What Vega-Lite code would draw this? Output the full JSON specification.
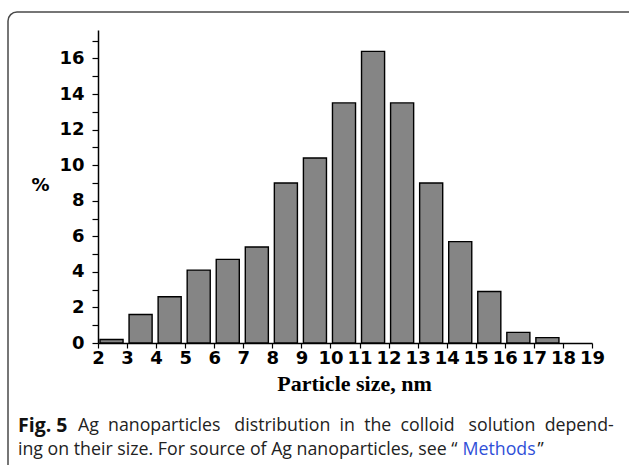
{
  "$schema": "https://vega.github.io/schema/vega-lite/v6.json",
  "width": 640,
  "height": 470,
  "autosize": {"type": "none"},
  "padding": {"left": 8, "top": 12, "right": 0, "bottom": 0},
  "background": "white",
  "config": {
    "view": {"stroke": "#4a4a4a", "strokeWidth": 1.5, "cornerRadius": 9}
  },
  "title": {
    "text": "Fig. 5",
    "subtitle": [
      "\u200b\u00a0\u00a0\u00a0\u00a0\u00a0\u00a0\u00a0\u00a0\u00a0\u00a0\u00a0\u00a0\u00a0Ag \u00a0nanoparticles \u00a0\u00a0distribution \u00a0in \u00a0the \u00a0colloid \u00a0\u00a0solution \u00a0depend-",
      "ing on their size. For source of Ag nanoparticles, see \u201c"
    ],
    "orient": "bottom",
    "anchor": "start",
    "frame": "group",
    "offset": -65,
    "dx": 10,
    "font": "Open Sans",
    "fontSize": 19.5,
    "fontWeight": "bold",
    "color": "#111111",
    "subtitleFont": "Open Sans",
    "subtitleFontSize": 17.75,
    "subtitleFontWeight": "normal",
    "subtitleColor": "#222222",
    "subtitleLineHeight": 24,
    "subtitlePadding": -20
  },
  "data": {
    "values": [
      {"start": 2, "end": 3, "pct": 0.2},
      {"start": 3, "end": 4, "pct": 1.6},
      {"start": 4, "end": 5, "pct": 2.6},
      {"start": 5, "end": 6, "pct": 4.1},
      {"start": 6, "end": 7, "pct": 4.7},
      {"start": 7, "end": 8, "pct": 5.4},
      {"start": 8, "end": 9, "pct": 9.0},
      {"start": 9, "end": 10, "pct": 10.4},
      {"start": 10, "end": 11, "pct": 13.5},
      {"start": 11, "end": 12, "pct": 16.4},
      {"start": 12, "end": 13, "pct": 13.5},
      {"start": 13, "end": 14, "pct": 9.0},
      {"start": 14, "end": 15, "pct": 5.7},
      {"start": 15, "end": 16, "pct": 2.9},
      {"start": 16, "end": 17, "pct": 0.6},
      {"start": 17, "end": 18, "pct": 0.3}
    ]
  },
  "layer": [
    {
      "mark": {"type": "bar", "fill": "#858585", "stroke": "#000000", "strokeWidth": 1.4, "xOffset": 2, "x2Offset": -4},
      "encoding": {
        "x": {
          "field": "start",
          "type": "quantitative",
          "scale": {"domain": [2, 19], "range": [90, 584], "nice": false, "zero": false},
          "axis": {
            "orient": "bottom",
            "offset": -139,
            "values": [2,3,4,5,6,7,8,9,10,11,12,13,14,15,16,17,18,19],
            "grid": false,
            "domainColor": "#000000",
            "domainWidth": 1.5,
            "tickColor": "#000000",
            "tickWidth": 1.2,
            "tickSize": 5,
            "labelFont": "DejaVu Sans",
            "labelFontWeight": "bold",
            "labelFontSize": 18,
            "labelColor": "#000000",
            "labelPadding": 1,
            "labelDx": -3,
            "labelFlush": false,
            "labelOverlap": false,
            "title": "Particle size, nm",
            "titleFont": "Liberation Serif",
            "titleFontWeight": "bold",
            "titleFontSize": 22,
            "titleColor": "#000000",
            "titlePadding": 6,
            "titleX": 346
          }
        },
        "x2": {"field": "end"},
        "y": {
          "field": "pct",
          "type": "quantitative",
          "scale": {"domain": [0, 17.6], "range": [331, 18], "nice": false},
          "axis": {
            "orient": "left",
            "offset": -90,
            "values": [0,1,2,3,4,5,6,7,8,9,10,11,12,13,14,15,16,17],
            "labelExpr": "datum.value % 2 == 0 ? datum.label : ''",
            "grid": false,
            "domainColor": "#000000",
            "domainWidth": 1.5,
            "tickColor": "#000000",
            "tickWidth": 1.2,
            "tickSize": 6,
            "labelFont": "DejaVu Sans",
            "labelFontWeight": "bold",
            "labelFontSize": 18,
            "labelColor": "#000000",
            "labelPadding": 8,
            "title": "%",
            "titleAngle": 0,
            "titleX": -58,
            "titleY": 173,
            "titleAlign": "center",
            "titleBaseline": "middle",
            "titleFont": "DejaVu Sans",
            "titleFontWeight": "bold",
            "titleFontSize": 18,
            "titleColor": "#000000"
          }
        },
        "y2": {"datum": 0}
      }
    },
    {
      "mark": {"type": "tick", "opacity": 0},
      "encoding": {
        "x": {
          "field": "start",
          "type": "quantitative",
          "axis": {
            "orient": "top",
            "domain": false,
            "ticks": false,
            "labels": false,
            "grid": false,
            "title": "Methods",
            "titleX": 454,
            "titleY": 437,
            "titleAlign": "left",
            "titleBaseline": "middle",
            "titleFont": "Open Sans",
            "titleFontSize": 17.75,
            "titleFontWeight": "normal",
            "titleColor": "#2f4fd8"
          }
        },
        "y": {
          "field": "pct",
          "type": "quantitative",
          "axis": {
            "orient": "right",
            "domain": false,
            "ticks": false,
            "labels": false,
            "grid": false,
            "title": "\u201d",
            "titleAngle": 0,
            "titleX": -111,
            "titleY": 437,
            "titleAlign": "left",
            "titleBaseline": "middle",
            "titleFont": "Open Sans",
            "titleFontSize": 17.75,
            "titleFontWeight": "normal",
            "titleColor": "#222222"
          }
        }
      }
    }
  ],
  "resolve": {"axis": {"x": "independent", "y": "independent"}}
}
